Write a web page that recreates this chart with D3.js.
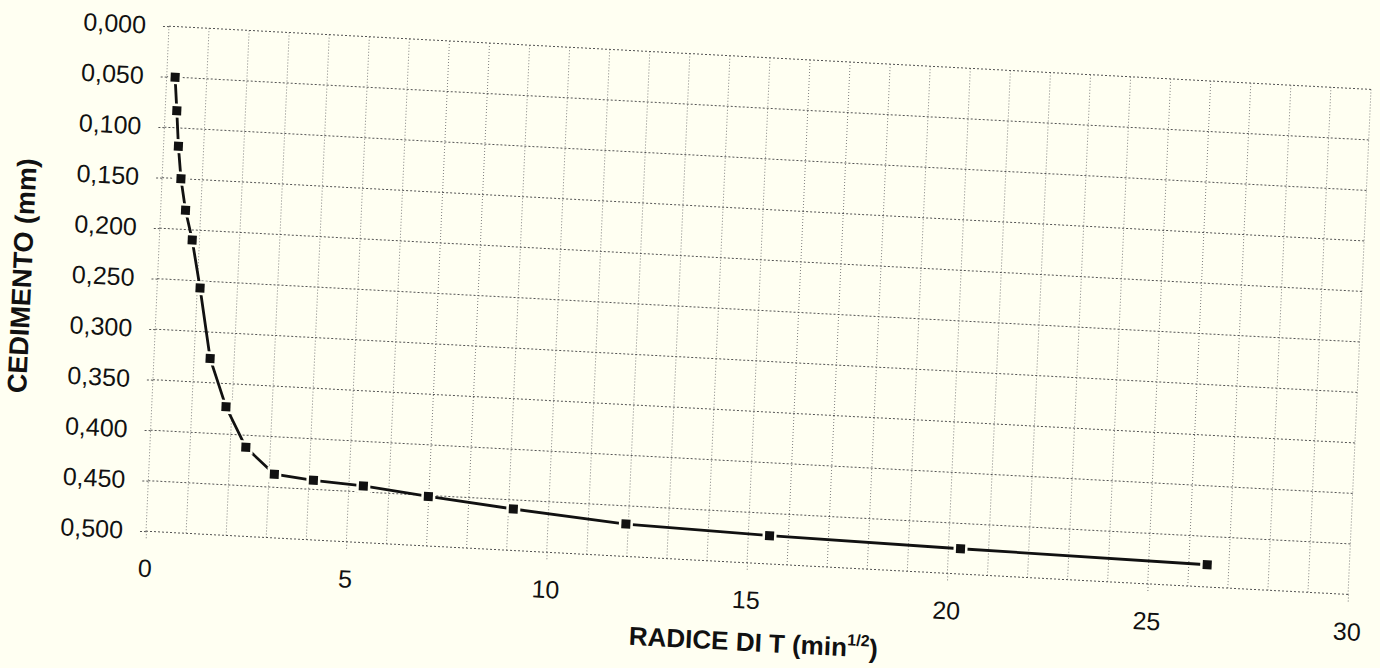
<!DOCTYPE html>
<html><head><meta charset="utf-8">
<script src="https://cdn.jsdelivr.net/npm/d3@7"></script>
<style>body{margin:0;background:#fffff2} svg{display:block}</style>
</head><body><svg id="c" width="1380" height="668"></svg>
<script>
// data
const sqrtT = [0.21, 0.29, 0.37, 0.47, 0.62, 0.82, 1.07, 1.40, 1.85, 2.39, 3.13, 4.11, 5.36, 6.99, 9.12, 11.94, 15.53, 20.30, 26.46];
const cedimento = [0.050, 0.083, 0.118, 0.150, 0.181, 0.210, 0.257, 0.326, 0.373, 0.412, 0.437, 0.441, 0.444, 0.451, 0.459, 0.468, 0.472, 0.475, 0.478];
const xTicks = [0, 5, 10, 15, 20, 25, 30];
const yTicks = [0, 0.05, 0.1, 0.15, 0.2, 0.25, 0.3, 0.35, 0.4, 0.45, 0.5];
const yTickLabels = ["0,000","0,050","0,100","0,150","0,200","0,250","0,300","0,350","0,400","0,450","0,500"];
const xGrid = d3.range(0, 31, 1);

const W = 1202, H = 505;
const bg = "#fffff2";
const font = "'Liberation Sans', Arial, sans-serif";
const svg = d3.select("#c");
svg.append("rect").attr("width", 1380).attr("height", 668).attr("fill", bg);

// scanned page is slightly skewed: apply the same affine frame
const g = svg.append("g").attr("transform", "matrix(1,0.0526,-0.0455,1,169,26.2)");

const x = d3.scaleLinear().domain([0, 30]).range([0, W]);
const y = d3.scaleLinear().domain([0, 0.5]).range([0, H]);

// vertical gridlines
g.append("g").selectAll("line").data(xGrid).join("line")
  .attr("x1", d => x(d)).attr("x2", d => x(d)).attr("y1", 0).attr("y2", H)
  .attr("stroke", "#808080").attr("stroke-width", 1).attr("stroke-dasharray", "1 2");
// horizontal gridlines
g.append("g").selectAll("line").data(yTicks).join("line")
  .attr("x1", 0).attr("x2", W).attr("y1", d => y(d)).attr("y2", d => y(d))
  .attr("stroke", "#555").attr("stroke-width", 1).attr("stroke-dasharray", "2 2");

// y axis
const ya = g.append("g").call(d3.axisLeft(y).tickValues(yTicks)
  .tickFormat((d, i) => yTickLabels[i]).tickSize(8).tickPadding(15));
ya.select(".domain").remove();
ya.selectAll(".tick line").attr("stroke", "#555").attr("stroke-dasharray", "2 2");
ya.selectAll("text").attr("font-family", font).attr("font-size", 25).attr("fill", "#111");

// x axis
const xa = g.append("g").attr("transform", `translate(0,${H})`)
  .call(d3.axisBottom(x).tickValues(xTicks).tickSize(8).tickPadding(20));
xa.select(".domain").remove();
xa.selectAll(".tick line").attr("stroke", "#777").attr("stroke-dasharray", "1 2");
xa.selectAll("text").attr("font-family", font).attr("font-size", 25).attr("fill", "#111");

// line
const pts = sqrtT.map((v, i) => [v, cedimento[i]]);
g.append("path").datum(pts)
  .attr("d", d3.line().x(d => x(d[0])).y(d => y(d[1])))
  .attr("fill", "none").attr("stroke", "#111").attr("stroke-width", 2.8);

// markers
g.append("g").selectAll("rect").data(pts).join("rect")
  .attr("x", d => x(d[0]) - 4.5).attr("y", d => y(d[1]) - 4.5)
  .attr("width", 9).attr("height", 9)
  .attr("fill", "#111").attr("stroke", bg).attr("stroke-width", 5)
  .style("paint-order", "stroke");

// axis titles
g.append("text").attr("transform", `translate(-135,${H / 2 + 4}) rotate(-90)`)
  .attr("text-anchor", "middle").attr("dominant-baseline", "central")
  .attr("font-family", font).attr("font-weight", "bold").attr("font-size", 27).attr("fill", "#111")
  .text("CEDIMENTO (mm)");

const xt = g.append("text").attr("x", W / 2 + 10).attr("y", H + 88)
  .attr("text-anchor", "middle")
  .attr("font-family", font).attr("font-weight", "bold").attr("font-size", 26).attr("fill", "#111");
xt.append("tspan").text("RADICE DI T (min");
xt.append("tspan").attr("font-size", 16).attr("dy", -11).text("1/2");
xt.append("tspan").attr("dy", 11).text(")");
</script></body></html>
